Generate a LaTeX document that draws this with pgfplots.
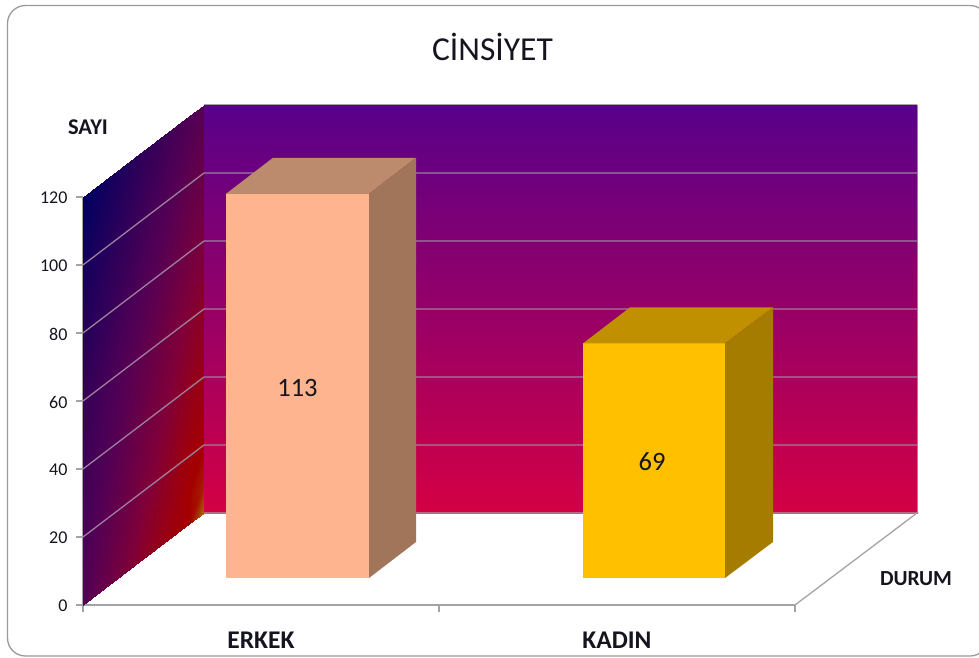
\documentclass[border=0pt]{standalone}
\usepackage{pgfplots}
\pgfplotsset{compat=1.18}
\usepackage{fontspec}
\setmainfont{Carlito}
\definecolor{txt}{HTML}{15151F}
\definecolor{framec}{HTML}{9A9A9A}
\definecolor{axisc}{HTML}{A4A4A4}
\definecolor{gridc}{HTML}{9F7F9F}
\pgfplotsset{
  colormap={sidewall}{rgb255(0cm)=(0,0,96); rgb255(4.5cm)=(84,0,84); rgb255(7cm)=(128,0,56); rgb255(9cm)=(165,0,0); rgb255(10cm)=(165,110,0)},
  colormap={backwall}{rgb255(0cm)=(212,0,68); rgb255(1cm)=(88,0,138)},
}
\begin{document}
\begin{tikzpicture}[x=1pt,y=1pt]
\draw[framec,line width=1.3pt,rounded corners=18pt] (-75.5,-51) rectangle (905,599.5);
\begin{axis}[
  at={(0pt,0pt)},anchor=south west,
  scale only axis,width=712pt,height=408pt,
  xmin=83,xmax=795,ymin=0,ymax=120,clip=false,
  axis x line*=bottom,axis y line*=left,
  axis line style={axisc,line width=1.3pt},
  tick style={axisc,line width=1.2pt},
  major tick length=7pt,tick align=outside,
  ytick={0,20,40,60,80,100,120},
  xtick={83,439,795},
  xticklabels={ERKEK,KADIN,},
  x tick label as interval=true,
  /pgf/number format/assume math mode=true,
  yticklabel style={font=\fontsize{18}{19}\selectfont,text=txt,xshift=-5pt,yshift=-1.2pt},
  xticklabel style={font=\fontsize{25.5}{27}\selectfont\bfseries,text=txt,yshift=-16.5pt},
  point meta min=0,point meta max=1,
]
% back wall
\addplot[surf,shader=interp,colormap name=backwall,mesh/rows=2,point meta=explicit] table[x=x,y=y,meta=c]{
x y c
204 147.2 1
917 147.2 1
204 27.06 0
917 27.06 0
};
% side wall
\addplot[surf,shader=interp,colormap name=sidewall,mesh/rows=5,point meta=explicit] table[x=x,y=y,meta=c]{
x y c
83 120 0.00
143.5 133.53 0.25
189.5 143.8 0.42
204 147.06 0.46
83 60 0.28
143.5 73.53 0.52
189.5 83.8 0.72
204 87.06 0.77
83 20 0.38
143.5 33.53 0.67
189.5 43.8 0.87
204 47.06 0.90
83 8 0.42
143.5 21.53 0.73
189.5 31.8 0.90
204 35.06 0.93
83 0 0.45
143.5 13.53 0.76
189.5 23.8 0.90
204 27.06 1.00
};
% grid lines
\addplot[gridc,line width=1.3pt] table[x=x,y=y]{
x y
83 20
204 47.06
917 47.06

83 40
204 67.06
917 67.06

83 60
204 87.06
917 87.06

83 80
204 107.06
917 107.06

83 100
204 127.06
917 127.06
};
\addplot[axisc,line width=1.2pt] coordinates {(204,147.2)(917,147.2)};
\addplot[gridc,line width=1pt] coordinates {(917,147.2)(917,27.06)};
% floor
\addplot[axisc,line width=1.3pt] coordinates {(204,27.06)(917,27.06)(795,0)};
\end{axis}
\begin{axis}[
  at={(0pt,0pt)},anchor=south west,
  scale only axis,width=712pt,height=408pt,
  xmin=83,xmax=795,ymin=-7.94,ymax=112.06,clip=false,hide axis,
]
% ERKEK
\addplot[ybar,bar width=143pt,bar shift=0pt,fill={rgb,255:red,253;green,180;blue,143},draw=none] coordinates {(297.5,113)};
\addplot[fill={rgb,255:red,188;green,138;blue,108},draw=none] coordinates {(226,113)(273,123.6)(416,123.6)(369,113)} --cycle;
\addplot[fill={rgb,255:red,160;green,117;blue,90},draw=none] coordinates {(369,0)(416,10.6)(416,123.6)(369,113)} --cycle;
% KADIN
\addplot[ybar,bar width=142pt,bar shift=0pt,fill={rgb,255:red,255;green,192;blue,0},draw=none] coordinates {(654,69)};
\addplot[fill={rgb,255:red,192;green,144;blue,0},draw=none] coordinates {(583,69)(630,79.6)(773,79.6)(725,69)} --cycle;
\addplot[fill={rgb,255:red,166;green,124;blue,0},draw=none] coordinates {(725,0)(773,10.6)(773,79.6)(725,69)} --cycle;
\node[font=\fontsize{26.5}{28}\selectfont,text=txt] at (axis cs:297.5,55.9) {113};
\node[font=\fontsize{26.5}{28}\selectfont,text=txt] at (axis cs:652,34.1) {69};
\end{axis}
\node[font=\fontsize{33.5}{35}\selectfont,text=txt] at (409.5,558) {CİNSİYET};
\node[font=\fontsize{22.5}{24}\selectfont\bfseries,text=txt] at (5,478) {SAYI};
\node[font=\fontsize{21.5}{24}\selectfont\bfseries,text=txt] at (833,26) {DURUM};
\pgfresetboundingbox
\path[use as bounding box] (-83,-52) rectangle (896,605);
\end{tikzpicture}
\end{document}
